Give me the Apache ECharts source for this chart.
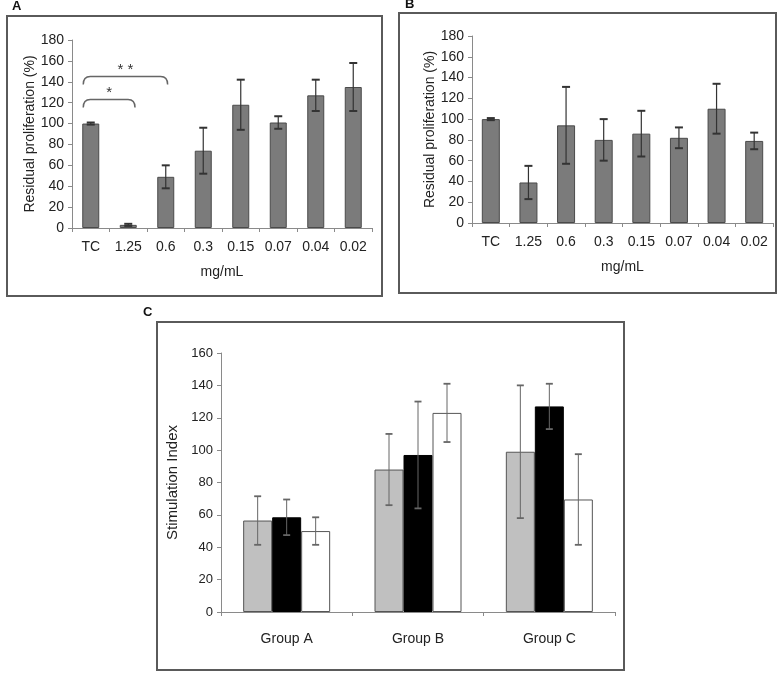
<!DOCTYPE html>
<html><head><meta charset="utf-8">
<script src="https://cdn.jsdelivr.net/npm/echarts@6/dist/echarts.min.js"></script>
<style>html,body{margin:0;padding:0;background:#fff}#c{width:780px;height:674px}</style>
</head><body><div id="c"></div>
<script>
// ---- data ----
const doseCategories = ['TC', '1.25', '0.6', '0.3', '0.15', '0.07', '0.04', '0.02'];
const panelAValues = [100, 3, 49, 74, 118, 101, 127, 135];
const panelAErrors = [1, 1, 11, 22, 24, 6, 15, 23];
const panelBValues = [100, 39, 94, 80, 86, 82, 110, 79];
const panelBErrors = [1, 16, 37, 20, 22, 10, 24, 8];
const yTicksAB = [0, 20, 40, 60, 80, 100, 120, 140, 160, 180];
const groupCategories = ['Group A', 'Group B', 'Group C'];
const seriesGray = [56.5, 88, 99];
const seriesGrayErr = [15, 22, 41];
const seriesBlack = [58.5, 97, 127];
const seriesBlackErr = [11, 33, 14];
const seriesWhite = [50, 123, 69.5];
const seriesWhiteErr = [8.5, 18, 28];
const yTicksC = [0, 20, 40, 60, 80, 100, 120, 140, 160];
// significance brackets: [from category (fractional), to category (fractional), level, label]
const sigFrom = [-0.2, -0.2];
const sigTo = [2.05, 1.18];
const sigLevel = [145, 123];
const sigLabel = ['* *', '*'];

const FONT = "'Liberation Sans', Arial, sans-serif";
const chart = echarts.init(document.getElementById('c'), null, {renderer: 'canvas'});

function yAxisCfg(gi, ticks, name, nameGap, nameSize, labelSize) {
  return {
    gridIndex: gi, type: 'value', min: ticks[0], max: ticks[ticks.length - 1],
    interval: ticks[1] - ticks[0],
    name: name, nameLocation: 'middle', nameGap: nameGap,
    nameTextStyle: {fontSize: nameSize, color: '#222', fontFamily: FONT},
    axisLine: {show: true, lineStyle: {color: '#8a8a8a', width: 1}},
    axisTick: {show: true, length: 4, lineStyle: {color: '#8a8a8a'}},
    axisLabel: {fontSize: labelSize, color: '#222', margin: 8, fontFamily: FONT},
    splitLine: {show: false}
  };
}
function xAxisCfg(gi, cats, name, nameGap, margin) {
  return {
    gridIndex: gi, type: 'category', data: cats,
    name: name, nameLocation: 'middle', nameGap: nameGap,
    nameTextStyle: {fontSize: 14, color: '#222', fontFamily: FONT},
    axisLine: {show: true, lineStyle: {color: '#8a8a8a', width: 1}},
    axisTick: {show: true, length: 4, alignWithLabel: false, lineStyle: {color: '#8a8a8a'}},
    axisLabel: {fontSize: 14, color: '#222', margin: margin, fontFamily: FONT, interval: 0},
    splitLine: {show: false}
  };
}

function errSeries(gi, vals, errs, offset, capHalf, color, lw) {
  return {
    type: 'custom', xAxisIndex: gi, yAxisIndex: gi, z: 5, silent: true,
    data: vals.map((v, i) => [i, v, errs[i]]),
    renderItem: function (params, api) {
      const x = api.value(0), v = api.value(1), e = api.value(2);
      const hi = api.coord([x, v + e]);
      const lo = api.coord([x, v - e]);
      const cx = hi[0] + offset;
      const st = {stroke: color, lineWidth: lw};
      return {type: 'group', children: [
        {type: 'line', shape: {x1: cx, y1: hi[1], x2: cx, y2: lo[1]}, style: st},
        {type: 'line', shape: {x1: cx - capHalf, y1: hi[1], x2: cx + capHalf, y2: hi[1]}, style: {stroke: color, lineWidth: lw + 0.8}},
        {type: 'line', shape: {x1: cx - capHalf, y1: lo[1], x2: cx + capHalf, y2: lo[1]}, style: {stroke: color, lineWidth: lw + 0.8}}
      ]};
    }
  };
}

const barStyleAB = {color: '#7b7b7b', borderColor: '#4a4a4a', borderWidth: 1};
const barCW = 29;

const option = {
  animation: false,
  backgroundColor: '#fff',
  textStyle: {fontFamily: FONT},
  grid: [
    {left: 72, right: 408, top: 40, bottom: 446},
    {left: 472, right: 7, top: 36, bottom: 451},
    {left: 221, right: 165, top: 353, bottom: 62}
  ],
  xAxis: [
    xAxisCfg(0, doseCategories, 'mg/mL', 37, 12),
    xAxisCfg(1, doseCategories, 'mg/mL', 37, 12),
    xAxisCfg(2, groupCategories, '', 30, 20)
  ],
  yAxis: [
    yAxisCfg(0, yTicksAB, 'Residual proliferation (%)', 35, 14, 14),
    yAxisCfg(1, yTicksAB, 'Residual proliferation (%)', 35, 14, 14),
    yAxisCfg(2, yTicksC, 'Stimulation Index', 38, 15, 13)
  ],
  graphic: [
    {type: 'rect', shape: {x: 7, y: 16, width: 375, height: 280}, style: {fill: 'none', stroke: '#5a5a5a', lineWidth: 2}, z: 0},
    {type: 'rect', shape: {x: 399, y: 13, width: 377, height: 280}, style: {fill: 'none', stroke: '#5a5a5a', lineWidth: 2}, z: 0},
    {type: 'rect', shape: {x: 157, y: 322, width: 467, height: 348}, style: {fill: 'none', stroke: '#5a5a5a', lineWidth: 2}, z: 0},
    {type: 'text', left: 12, top: 0, style: {text: 'A', font: 'bold 13px ' + FONT, fill: '#111'}},
    {type: 'text', left: 405, top: -2, style: {text: 'B', font: 'bold 13px ' + FONT, fill: '#111'}},
    {type: 'text', left: 143, top: 306, style: {text: 'C', font: 'bold 13px ' + FONT, fill: '#111'}}
  ],
  series: [
    {type: 'bar', xAxisIndex: 0, yAxisIndex: 0, data: panelAValues, barWidth: 17, itemStyle: barStyleAB},
    errSeries(0, panelAValues, panelAErrors, 0, 4, '#333', 1.2),
    {type: 'bar', xAxisIndex: 1, yAxisIndex: 1, data: panelBValues, barWidth: 18, itemStyle: barStyleAB},
    errSeries(1, panelBValues, panelBErrors, 0, 4, '#333', 1.2),
    {type: 'bar', xAxisIndex: 2, yAxisIndex: 2, data: seriesGray, barWidth: barCW, barGap: '0%',
      itemStyle: {color: '#c0c0c0', borderColor: '#555', borderWidth: 1}},
    {type: 'bar', xAxisIndex: 2, yAxisIndex: 2, data: seriesBlack, barWidth: barCW, barGap: '0%',
      itemStyle: {color: '#000', borderColor: '#000', borderWidth: 1}},
    {type: 'bar', xAxisIndex: 2, yAxisIndex: 2, data: seriesWhite, barWidth: barCW, barGap: '0%',
      itemStyle: {color: '#fff', borderColor: '#555', borderWidth: 1}},
    errSeries(2, seriesGray, seriesGrayErr, -barCW, 3.5, '#666', 1),
    errSeries(2, seriesBlack, seriesBlackErr, 0, 3.5, '#666', 1),
    errSeries(2, seriesWhite, seriesWhiteErr, barCW, 3.5, '#666', 1),
    {
      type: 'custom', xAxisIndex: 0, yAxisIndex: 0, z: 6, silent: true,
      data: sigLevel.map((lv, i) => [0, lv, i]),
      renderItem: function (params, api) {
        const i = api.value(2);
        const base = api.coord([0, api.value(1)]);
        const band = api.size([1, 0])[0];
        const x1 = base[0] + sigFrom[i] * band;
        const x2 = base[0] + sigTo[i] * band;
        const y = base[1];
        const d = 'M' + x1 + ' ' + (y + 8) + ' Q' + x1 + ' ' + y + ' ' + (x1 + 7) + ' ' + y +
                  ' L' + (x2 - 7) + ' ' + y + ' Q' + x2 + ' ' + y + ' ' + x2 + ' ' + (y + 8);
        return {type: 'group', children: [
          {type: 'path', shape: {pathData: d}, style: {fill: 'none', stroke: '#666', lineWidth: 1.5}},
          {type: 'text', style: {text: sigLabel[i], x: (x1 + x2) / 2, y: y + 1,
            align: 'center', verticalAlign: 'bottom', font: '15px ' + FONT, fill: '#333'}}
        ]};
      }
    }
  ]
};
chart.setOption(option);
</script></body></html>
